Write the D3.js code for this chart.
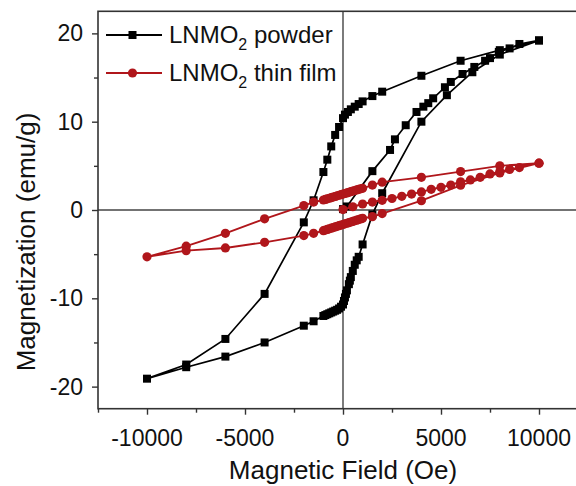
<!DOCTYPE html>
<html>
<head>
<meta charset="utf-8">
<script src="https://cdn.jsdelivr.net/npm/d3@7"></script>
<style>
  body { margin: 0; background: #fff; }
  text { font-family: "Liberation Sans", Arial, sans-serif; fill: #111; }
</style>
</head>
<body>
<div id="chart"></div>
<script>
// LNMO2 powder: virgin curve, then descending branch, then ascending branch
const powderField = [
  0, 200, 1500, 2400, 2650, 3200, 3750, 4100, 4350, 4600, 5200, 5500, 6100, 6700, 7250, 7500, 7950, 8500, 9000, 10000,
  8000, 6000, 4000, 2000, 1500, 1000, 800, 600, 400, 250, 100, 0, -200, -400, -600, -800, -1000, -1500, -2000, -4000, -6000, -8000, -10000,
  -8000, -6000, -4000, -2000, -1500, -1000, -900, -800, -700, -600, -500, -400, -300, -200, -100, 0,
  50, 100, 150, 200, 300, 350, 400, 500, 600, 700, 800, 1000, 1500, 2000, 4000, 5300, 6600, 8000, 10000
]
const powderMag = [
  0.1, 0.4, 4.4, 6.8, 8.0, 9.6, 11.1, 11.7, 12.1, 12.65, 13.9, 14.5, 15.4, 16.2, 16.9, 17.2, 17.9, 18.3, 18.8, 19.2,
  18.1, 16.9, 15.2, 13.4, 12.9, 12.3, 12.0, 11.7, 11.4, 11.1, 10.8, 10.4, 9.4, 8.5, 7.2, 5.7, 4.3, 1.1, -1.4, -9.5, -14.6, -17.5, -19.1,
  -17.8, -16.6, -15.0, -13.1, -12.6, -12.0, -11.9, -11.8, -11.7, -11.6, -11.5, -11.4, -11.3, -11.15, -10.95, -10.7,
  -10.3, -9.9, -9.5, -9.1, -8.4, -8.0, -7.6, -6.9, -6.2, -5.7, -5.3, -3.9, -0.5, 1.9, 10.0, 13.0, 15.6, 17.6, 19.2
]

// LNMO2 thin film: virgin curve, descending branch, ascending branch
const filmField = [
  0, 500, 1000, 1500, 2000, 2500, 3000, 3500, 4000, 4500, 5000, 5500, 6000, 6500, 7000, 7500, 8000, 8500, 9000, 10000,
  8000, 6000, 4000, 2000, 1500, 1000, 900, 800, 700, 600, 500, 400, 300, 200, 100, 0, -100, -200, -300, -400, -500, -600, -700, -800, -900, -1000, -1500, -2000, -4000, -6000, -8000, -10000,
  -8000, -6000, -4000, -2000, -1500, -1000, -900, -800, -700, -600, -500, -400, -300, -200, -100, 0, 100, 200, 300, 400, 500, 600, 700, 800, 900, 1000, 1500, 2000, 4000, 6000, 8000, 10000
]
const filmMag = [
  0.05, 0.37, 0.68, 0.9, 1.1, 1.3, 1.55, 1.8, 2.05, 2.34, 2.57, 2.83, 3.2, 3.4, 3.7, 4.08, 4.35, 4.6, 4.8, 5.3,
  5.0, 4.35, 3.7, 3.15, 2.82, 2.45, 2.4, 2.34, 2.27, 2.2, 2.14, 2.07, 2.0, 1.93, 1.87, 1.8, 1.74, 1.67, 1.6, 1.53, 1.47, 1.4, 1.33, 1.27, 1.2, 1.13, 0.9, 0.5, -1.0, -2.64, -4.1, -5.3,
  -4.6, -4.3, -3.66, -2.9, -2.64, -2.34, -2.27, -2.2, -2.13, -2.06, -1.99, -1.92, -1.85, -1.78, -1.71, -1.64, -1.57, -1.5, -1.43, -1.36, -1.29, -1.22, -1.15, -1.08, -1.01, -0.94, -0.75, -0.4, 1.05, 2.8, 4.2, 5.3
]

const xTicks = [-10000, -5000, 0, 5000, 10000]
const yTicks = [-20, -10, 0, 10, 20]
const seriesNames = ['powder', 'thin film']

const margin = { top: 11.3, left: 98, right: -12, bottom: 77.3 }
const totalW = 576, totalH = 486
const width = totalW - margin.left - margin.right
const height = totalH - margin.top - margin.bottom

const svg = d3.select('#chart').append('svg')
  .attr('width', totalW).attr('height', totalH)

const g = svg.append('g')
  .attr('transform', 'translate(' + margin.left + ',' + margin.top + ')')

const x = d3.scaleLinear().domain([-12500, 12500]).range([0, width])
const y = d3.scaleLinear().domain([-22.5, 22.5]).range([height, 0])

// zero lines
g.append('line').attr('x1', 0).attr('x2', width).attr('y1', y(0)).attr('y2', y(0))
  .attr('stroke', '#444').attr('stroke-width', 1.4)
g.append('line').attr('x1', x(0)).attr('x2', x(0)).attr('y1', 0).attr('y2', height)
  .attr('stroke', '#444').attr('stroke-width', 1.4)

// axes
const xAxis = g.append('g').attr('transform', 'translate(0,' + height + ')')
xAxis.call(d3.axisBottom(x).tickValues(d3.range(-12500, 12501, 2500)).tickSize(5).tickFormat(''))
xAxis.call(a => a.selectAll('.tick line').attr('y2', d => xTicks.includes(d) ? 6 : 4))
xAxis.append('g').selectAll('text').data(xTicks).join('text')
  .attr('x', d => x(d)).attr('y', 37).attr('text-anchor', 'middle')
  .attr('font-size', 23).text(d => d)

const yAxis = g.append('g')
yAxis.call(d3.axisLeft(y).tickValues(d3.range(-20, 21, 5)).tickSize(5).tickFormat(''))
yAxis.call(a => a.selectAll('.tick line').attr('x2', d => yTicks.includes(d) ? -6 : -4))
yAxis.append('g').selectAll('text').data(yTicks).join('text')
  .attr('x', -15).attr('y', d => y(d) + 8).attr('text-anchor', 'end')
  .attr('font-size', 23).text(d => d)

g.selectAll('.domain').remove()
g.selectAll('.tick line').attr('stroke', '#333').attr('stroke-width', 1.4)

// frame
g.append('rect').attr('width', width).attr('height', height)
  .attr('fill', 'none').attr('stroke', '#333').attr('stroke-width', 1.6)

// axis titles
svg.append('text').attr('x', 343).attr('y', 479).attr('text-anchor', 'middle')
  .attr('font-size', 26).text('Magnetic Field (Oe)')
svg.append('text').attr('transform', 'translate(35,' + 242 + ') rotate(-90)')
  .attr('text-anchor', 'middle').attr('font-size', 26).text('Magnetization (emu/g)')

const line = d3.line().x(d => x(d[0])).y(d => y(d[1]))
const powder = powderField.map((f, i) => [f, powderMag[i]])
const film = filmField.map((f, i) => [f, filmMag[i]])

const black = '#000'
const red = '#b0161b'

g.append('path').datum(powder).attr('d', line)
  .attr('fill', 'none').attr('stroke', black).attr('stroke-width', 1.7)
g.selectAll('.sq').data(powder).join('rect').attr('class', 'sq')
  .attr('x', d => x(d[0]) - 4).attr('y', d => y(d[1]) - 4)
  .attr('width', 8).attr('height', 8).attr('fill', black)

g.append('path').datum(film).attr('d', line)
  .attr('fill', 'none').attr('stroke', red).attr('stroke-width', 1.9)
g.selectAll('.ci').data(film).join('circle').attr('class', 'ci')
  .attr('cx', d => x(d[0])).attr('cy', d => y(d[1])).attr('r', 4.6).attr('fill', red)

// legend
const legend = svg.append('g')
seriesNames.forEach((name, i) => {
  const ly = 35 + i * 38
  const col = i === 0 ? black : red
  legend.append('line').attr('x1', 106).attr('x2', 162).attr('y1', ly).attr('y2', ly)
    .attr('stroke', col).attr('stroke-width', 1.9)
  if (i === 0) {
    legend.append('rect').attr('x', 128.5).attr('y', ly - 4).attr('width', 8).attr('height', 8).attr('fill', col)
  } else {
    legend.append('circle').attr('cx', 132.5).attr('cy', ly).attr('r', 4.6).attr('fill', col)
  }
  const t = legend.append('text').attr('x', 169).attr('y', ly + 8).attr('font-size', 24)
  t.append('tspan').text('LNMO')
  t.append('tspan').attr('font-size', 16).attr('dy', 7).text('2')
  t.append('tspan').attr('dy', -7).text(' ' + name)
})
</script>
</body>
</html>
